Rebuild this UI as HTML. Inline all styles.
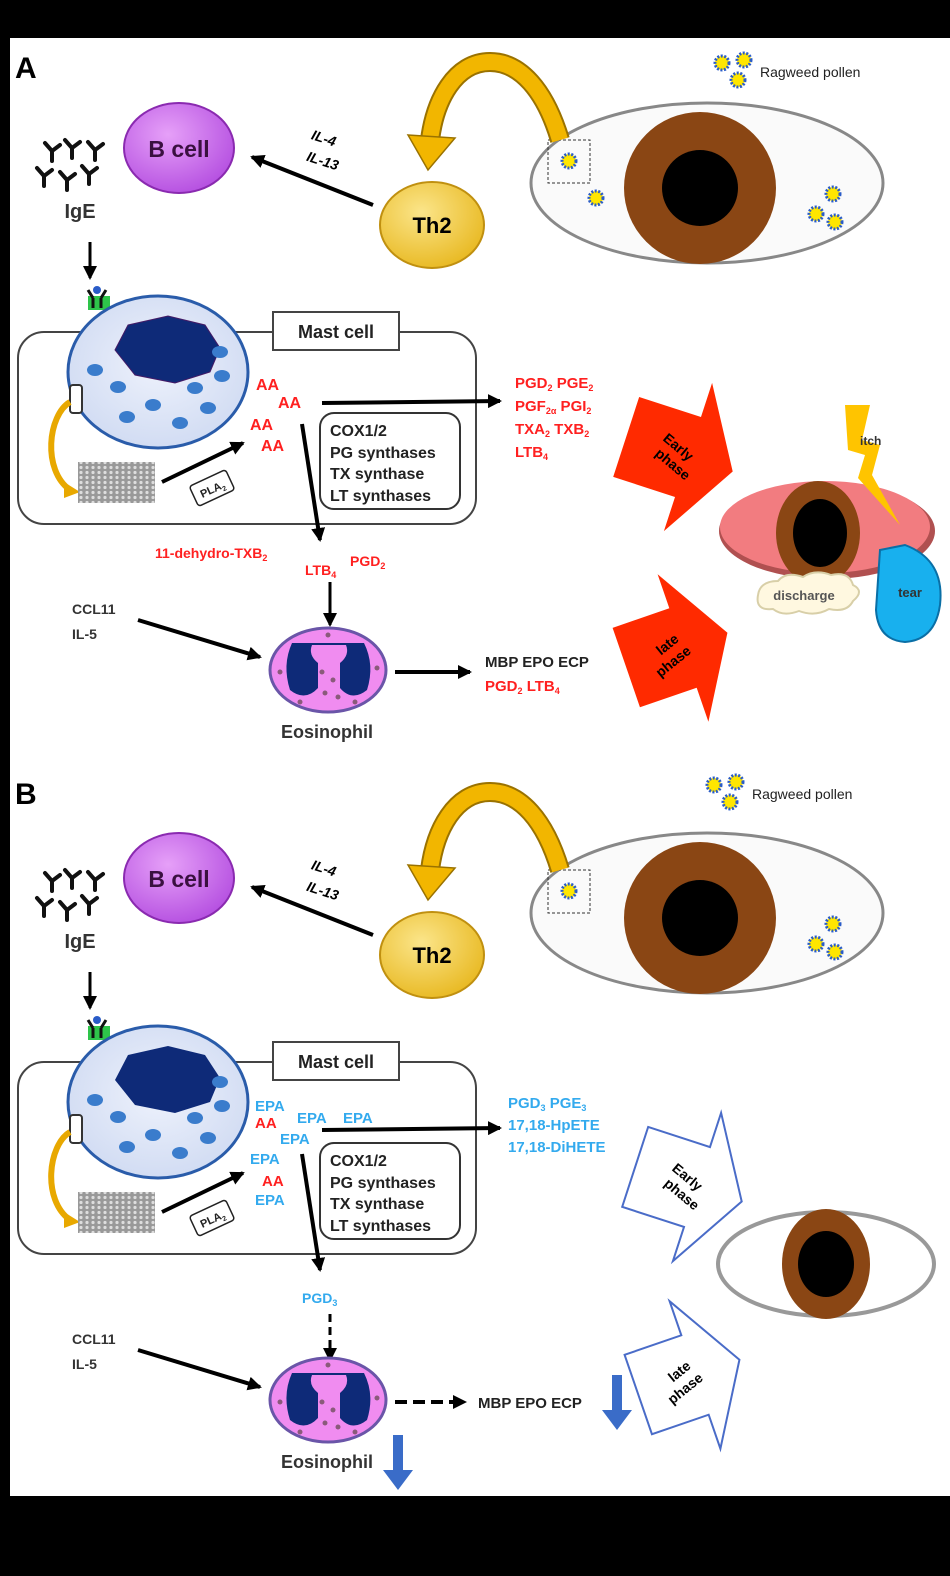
<!DOCTYPE html>
<html><head><meta charset="utf-8"><style>
html,body{margin:0;padding:0;background:#000;}
svg{display:block;}
text{font-family:"Liberation Sans",Arial,sans-serif;font-weight:bold;}
</style></head><body>
<svg width="950" height="1576" viewBox="0 0 950 1576" xmlns="http://www.w3.org/2000/svg">
<defs>
<marker id="ah" markerWidth="8" markerHeight="8" refX="6" refY="4" orient="auto" markerUnits="userSpaceOnUse" viewBox="0 0 8 8"><path d="M0,0 L8,4 L0,8 Z" fill="#000"/></marker>
<marker id="ahb" markerWidth="14" markerHeight="14" refX="12" refY="7" orient="auto" markerUnits="userSpaceOnUse"><path d="M0,0 L14,7 L0,14 Z" fill="#000"/></marker>
<radialGradient id="cellg" cx="0.5" cy="0.45" r="0.6"><stop offset="0" stop-color="#eef2fc"/><stop offset="1" stop-color="#cfdaf2"/></radialGradient>
<radialGradient id="bg" cx="0.4" cy="0.35" r="0.7"><stop offset="0" stop-color="#e6a0f8"/><stop offset="1" stop-color="#b44ee0"/></radialGradient>
<radialGradient id="tg" cx="0.4" cy="0.35" r="0.7"><stop offset="0" stop-color="#fbe58a"/><stop offset="1" stop-color="#e8b820"/></radialGradient>
<pattern id="mem" width="6" height="5" patternUnits="userSpaceOnUse"><rect width="6" height="5" fill="#999"/><circle cx="3" cy="2.5" r="1.6" fill="#ddd"/></pattern>
</defs>
<rect x="10" y="38" width="940" height="1458" fill="#fff"/>

<!-- ============ PANEL A ============ -->
<g id="pa">
<text x="15" y="78" font-size="30">A</text>
</g>

<!-- shared top part A -->
<g>
 <!-- pollen legend -->
 <g fill="#ffe600" stroke="#2a5cc8" stroke-width="3" stroke-dasharray="2 1.5">
  <circle cx="722" cy="63" r="7"/><circle cx="744" cy="60" r="7"/><circle cx="738" cy="80" r="7"/>
 </g>
 <text x="760" y="77" font-size="14" font-weight="normal" fill="#222" style="font-weight:normal">Ragweed pollen</text>
 <!-- eye -->
 <ellipse cx="707" cy="183" rx="176" ry="80" fill="#fafafa" stroke="#888" stroke-width="3"/>
 <circle cx="700" cy="188" r="76" fill="#8a4614"/>
 <circle cx="700" cy="188" r="38" fill="#000"/>
 <rect x="548" y="140" width="42" height="43" fill="none" stroke="#333" stroke-dasharray="3 2"/>
 <g fill="#ffe600" stroke="#2a5cc8" stroke-width="3" stroke-dasharray="2 1.5">
  <circle cx="569" cy="161" r="7"/><circle cx="596" cy="198" r="7"/>
  <circle cx="833" cy="194" r="7"/><circle cx="816" cy="214" r="7"/><circle cx="835" cy="222" r="7"/>
 </g>
 <!-- yellow arc arrow -->
 <path d="M560,140 C545,90 520,62 490,62 C455,62 435,100 430,140" fill="none" stroke="#9a7200" stroke-width="20"/>
 <path d="M560,140 C545,90 520,62 490,62 C455,62 435,100 430,140" fill="none" stroke="#f2b600" stroke-width="16"/>
 <path d="M408,135 L455,138 L428,170 Z" fill="#f2b600" stroke="#9a7200" stroke-width="1.5"/>
 <!-- Th2 -->
 <ellipse cx="432" cy="225" rx="52" ry="43" fill="url(#tg)" stroke="#c09010" stroke-width="2"/>
 <text x="432" y="233" font-size="22" text-anchor="middle">Th2</text>
 <!-- B cell -->
 <ellipse cx="179" cy="148" rx="55" ry="45" fill="url(#bg)" stroke="#8a2ab0" stroke-width="2"/>
 <text x="179" y="157" font-size="23" text-anchor="middle" fill="#3a1040">B cell</text>
 <line x1="373" y1="205" x2="252" y2="157" stroke="#000" stroke-width="4" marker-end="url(#ahb)"/>
 <text x="310" y="142" font-size="14" font-style="italic" transform="rotate(18 320 142)">IL-4</text>
 <text x="305" y="165" font-size="14" font-style="italic" transform="rotate(18 320 165)">IL-13</text>
 <!-- IgE -->
 <g stroke="#111" stroke-width="4" fill="none" stroke-linecap="round">
  <path d="M45,143 l7,8 l8,-6 M52,151 l0,10"/>
  <path d="M65,140 l7,8 l8,-6 M72,148 l0,10"/>
  <path d="M88,142 l7,8 l8,-6 M95,150 l0,10"/>
  <path d="M37,168 l7,8 l8,-6 M44,176 l0,10"/>
  <path d="M60,172 l7,8 l8,-6 M67,180 l0,10"/>
  <path d="M82,166 l7,8 l8,-6 M89,174 l0,10"/>
 </g>
 <text x="80" y="218" font-size="20" text-anchor="middle" fill="#333">IgE</text>
 <line x1="90" y1="242" x2="90" y2="278" stroke="#000" stroke-width="3" marker-end="url(#ahb)"/>
</g>

<!-- mast cell A -->
<g>
 <rect x="18" y="332" width="458" height="192" rx="26" fill="#fff" stroke="#444" stroke-width="2"/>
 <rect x="273" y="312" width="126" height="38" fill="#fff" stroke="#444" stroke-width="2"/>
 <text x="336" y="338" font-size="18" text-anchor="middle" fill="#222">Mast cell</text>
 <!-- receptor -->
 <rect x="88" y="296" width="22" height="14" fill="#2ec44a"/>
 <path d="M88,290 l5,8 M106,290 l-5,8 M93,298 l0,10 M101,298 l0,10" stroke="#111" stroke-width="3"/>
 <circle cx="97" cy="290" r="4" fill="#2a5cc8"/>
 <ellipse cx="158" cy="372" rx="90" ry="76" fill="url(#cellg)" stroke="#2a5caa" stroke-width="3"/>
 <path d="M128,325 L168,316 L205,325 L220,348 L210,372 L175,383 L135,375 L115,350 Z" fill="#0e2a78" stroke="#441a66" stroke-width="1"/>
 <g fill="#3a7ccc">
  <ellipse cx="95" cy="370" rx="8" ry="6"/><ellipse cx="118" cy="387" rx="8" ry="6"/><ellipse cx="153" cy="405" rx="8" ry="6"/>
  <ellipse cx="127" cy="417" rx="8" ry="6"/><ellipse cx="180" cy="423" rx="8" ry="6"/><ellipse cx="195" cy="388" rx="8" ry="6"/>
  <ellipse cx="208" cy="408" rx="8" ry="6"/><ellipse cx="220" cy="352" rx="8" ry="6"/><ellipse cx="222" cy="376" rx="8" ry="6"/>
 </g>
 <rect x="70" y="385" width="12" height="28" rx="3" fill="#fff" stroke="#333" stroke-width="2"/>
 <path d="M70,402 C48,415 42,470 70,490" fill="none" stroke="#e8a800" stroke-width="6"/>
 <path d="M64,482 L80,492 L64,498 Z" fill="#e8a800"/>
 <rect x="78" y="462" width="77" height="41" fill="url(#mem)"/>
 <line x1="162" y1="482" x2="243" y2="443" stroke="#000" stroke-width="4" marker-end="url(#ahb)"/>
 <g transform="rotate(-25 212 488)"><rect x="192" y="477" width="40" height="22" rx="3" fill="#fff" stroke="#222" stroke-width="1.5"/><text x="212" y="493" font-size="11" text-anchor="middle" fill="#222">PLA<tspan font-size="7" dy="3">2</tspan></text></g>
 <g fill="#ff2020" font-size="16">
  <text x="256" y="390">AA</text><text x="278" y="408">AA</text><text x="250" y="430">AA</text><text x="261" y="451">AA</text>
 </g>
 <line x1="322" y1="403" x2="500" y2="401" stroke="#000" stroke-width="4" marker-end="url(#ahb)"/>
 <rect x="320" y="413" width="140" height="96" rx="14" fill="#fff" stroke="#333" stroke-width="2"/>
 <g font-size="16" fill="#222"><text x="330" y="436">COX1/2</text><text x="330" y="458">PG synthases</text><text x="330" y="479">TX synthase</text><text x="330" y="501">LT synthases</text></g>
 <line x1="302" y1="424" x2="320" y2="540" stroke="#000" stroke-width="4" marker-end="url(#ahb)"/>
</g>
<!-- products A -->
<g fill="#ff2020" font-size="15">
 <text x="515" y="388">PGD<tspan font-size="9" dy="3">2</tspan><tspan dy="-3"> PGE</tspan><tspan font-size="9" dy="3">2</tspan></text>
 <text x="515" y="411">PGF<tspan font-size="9" dy="3">2α</tspan><tspan dy="-3"> PGI</tspan><tspan font-size="9" dy="3">2</tspan></text>
 <text x="515" y="434">TXA<tspan font-size="9" dy="3">2</tspan><tspan dy="-3">  TXB</tspan><tspan font-size="9" dy="3">2</tspan></text>
 <text x="515" y="457">LTB<tspan font-size="9" dy="3">4</tspan></text>
 <text x="155" y="558" font-size="14">11-dehydro-TXB<tspan font-size="9" dy="3">2</tspan></text>
 <text x="305" y="575" font-size="14">LTB<tspan font-size="9" dy="3">4</tspan></text>
 <text x="350" y="566" font-size="14">PGD<tspan font-size="9" dy="3">2</tspan></text>
</g>
<line x1="330" y1="582" x2="330" y2="625" stroke="#000" stroke-width="3" marker-end="url(#ahb)"/>
<g font-size="14" fill="#333"><text x="72" y="614">CCL11</text><text x="72" y="639">IL-5</text></g>
<line x1="138" y1="620" x2="260" y2="657" stroke="#000" stroke-width="4" marker-end="url(#ahb)"/>
<!-- eosinophil A -->
<g>
 <ellipse cx="328" cy="670" rx="58" ry="42" fill="#f08cf0" stroke="#6a55a8" stroke-width="3"/>
 <path d="M292,643 Q282,665 290,690 Q305,702 318,688 L318,663 Q308,655 312,645 L346,645 Q350,655 340,663 L340,688 Q352,702 367,690 Q375,665 364,643 Z" fill="#0e2a78"/>
 <g fill="#8a5a7a"><circle cx="322" cy="672" r="2.5"/><circle cx="333" cy="680" r="2.5"/><circle cx="325" cy="693" r="2.5"/><circle cx="338" cy="697" r="2.5"/><circle cx="300" cy="702" r="2.5"/><circle cx="355" cy="702" r="2.5"/><circle cx="280" cy="672" r="2.5"/><circle cx="377" cy="668" r="2.5"/><circle cx="328" cy="635" r="2.5"/></g>
 <text x="327" y="738" font-size="18" text-anchor="middle" fill="#333">Eosinophil</text>
</g>
<line x1="395" y1="672" x2="470" y2="672" stroke="#000" stroke-width="4" marker-end="url(#ahb)"/>
<text x="485" y="667" font-size="15" fill="#222">MBP EPO ECP</text>
<text x="485" y="691" font-size="15" fill="#ff2020">PGD<tspan font-size="9" dy="3">2</tspan><tspan dy="-3"> LTB</tspan><tspan font-size="9" dy="3">4</tspan></text>
<!-- red block arrows -->
<g transform="translate(688,457) rotate(18)">
 <path d="M-65,-42 L0,-42 L0,-78 L47,0 L0,78 L0,42 L-65,42 Z" fill="#ff2a00"/>
 <text x="-14" y="-2" font-size="14" text-anchor="middle" transform="rotate(22 -14 -2)">Early</text>
 <text x="-14" y="16" font-size="14" text-anchor="middle" transform="rotate(22 -14 16)">phase</text>
</g>
<g transform="translate(683,648) rotate(-19)">
 <path d="M-60,-42 L0,-42 L0,-78 L47,0 L0,78 L0,42 L-60,42 Z" fill="#ff2a00"/>
 <text x="-12" y="-4" font-size="14" text-anchor="middle" transform="rotate(-20 -12 -4)">late</text>
 <text x="-12" y="14" font-size="14" text-anchor="middle" transform="rotate(-20 -12 14)">phase</text>
</g>
<!-- inflamed eye -->
<ellipse cx="827" cy="531" rx="108" ry="48" fill="#b05050"/>
<ellipse cx="825" cy="527" rx="105" ry="46" fill="#f27c80"/>
<ellipse cx="818" cy="533" rx="42" ry="52" fill="#8a4614"/>
<ellipse cx="820" cy="533" rx="27" ry="34" fill="#000"/>
<path d="M845,405 L870,405 L862,440 L880,445 L872,475 L900,525 L858,478 L865,455 L848,450 Z" fill="#ffc400"/>
<text x="860" y="445" font-size="12" fill="#333">itch</text>
<path d="M758,595 q2,-14 20,-14 q8,-10 25,-4 q12,-8 28,-2 q18,-4 22,10 q12,6 0,16 q-6,12 -24,8 q-14,8 -30,2 q-16,6 -26,-2 q-18,2 -15,-14 Z" fill="#fff8e0" stroke="#d8cfa8" stroke-width="2"/>
<text x="804" y="600" font-size="13" text-anchor="middle" fill="#555">discharge</text>
<path d="M880,550 L905,545 Q945,560 940,605 Q935,640 905,642 Q878,640 876,610 Z" fill="#18b0ee" stroke="#0a6fa6" stroke-width="2"/>
<text x="910" y="597" font-size="13" text-anchor="middle" fill="#333">tear</text>

<!-- ============ PANEL B ============ -->
<text x="15" y="804" font-size="30">B</text>
<g transform="translate(-8,722)">
 <g fill="#ffe600" stroke="#2a5cc8" stroke-width="3" stroke-dasharray="2 1.5">
  <circle cx="722" cy="63" r="7"/><circle cx="744" cy="60" r="7"/><circle cx="738" cy="80" r="7"/>
 </g>
 <text x="760" y="77" font-size="14" style="font-weight:normal" fill="#222">Ragweed pollen</text>
</g>
<g transform="translate(0,730)">
 <ellipse cx="707" cy="183" rx="176" ry="80" fill="#fafafa" stroke="#888" stroke-width="3"/>
 <circle cx="700" cy="188" r="76" fill="#8a4614"/>
 <circle cx="700" cy="188" r="38" fill="#000"/>
 <rect x="548" y="140" width="42" height="43" fill="none" stroke="#333" stroke-dasharray="3 2"/>
 <g fill="#ffe600" stroke="#2a5cc8" stroke-width="3" stroke-dasharray="2 1.5">
  <circle cx="569" cy="161" r="7"/><circle cx="833" cy="194" r="7"/><circle cx="816" cy="214" r="7"/><circle cx="835" cy="222" r="7"/>
 </g>
 <path d="M560,140 C545,90 520,62 490,62 C455,62 435,100 430,140" fill="none" stroke="#9a7200" stroke-width="20"/>
 <path d="M560,140 C545,90 520,62 490,62 C455,62 435,100 430,140" fill="none" stroke="#f2b600" stroke-width="16"/>
 <path d="M408,135 L455,138 L428,170 Z" fill="#f2b600" stroke="#9a7200" stroke-width="1.5"/>
 <ellipse cx="432" cy="225" rx="52" ry="43" fill="url(#tg)" stroke="#c09010" stroke-width="2"/>
 <text x="432" y="233" font-size="22" text-anchor="middle">Th2</text>
 <ellipse cx="179" cy="148" rx="55" ry="45" fill="url(#bg)" stroke="#8a2ab0" stroke-width="2"/>
 <text x="179" y="157" font-size="23" text-anchor="middle" fill="#3a1040">B cell</text>
 <line x1="373" y1="205" x2="252" y2="157" stroke="#000" stroke-width="4" marker-end="url(#ahb)"/>
 <text x="310" y="142" font-size="14" font-style="italic" transform="rotate(18 320 142)">IL-4</text>
 <text x="305" y="165" font-size="14" font-style="italic" transform="rotate(18 320 165)">IL-13</text>
 <g stroke="#111" stroke-width="4" fill="none" stroke-linecap="round">
  <path d="M45,143 l7,8 l8,-6 M52,151 l0,10"/><path d="M65,140 l7,8 l8,-6 M72,148 l0,10"/><path d="M88,142 l7,8 l8,-6 M95,150 l0,10"/>
  <path d="M37,168 l7,8 l8,-6 M44,176 l0,10"/><path d="M60,172 l7,8 l8,-6 M67,180 l0,10"/><path d="M82,166 l7,8 l8,-6 M89,174 l0,10"/>
 </g>
 <text x="80" y="218" font-size="20" text-anchor="middle" fill="#333">IgE</text>
 <line x1="90" y1="242" x2="90" y2="278" stroke="#000" stroke-width="3" marker-end="url(#ahb)"/>
 <!-- mast cell B -->
 <rect x="18" y="332" width="458" height="192" rx="26" fill="#fff" stroke="#444" stroke-width="2"/>
 <rect x="273" y="312" width="126" height="38" fill="#fff" stroke="#444" stroke-width="2"/>
 <text x="336" y="338" font-size="18" text-anchor="middle" fill="#222">Mast cell</text>
 <rect x="88" y="296" width="22" height="14" fill="#2ec44a"/>
 <path d="M88,290 l5,8 M106,290 l-5,8 M93,298 l0,10 M101,298 l0,10" stroke="#111" stroke-width="3"/>
 <circle cx="97" cy="290" r="4" fill="#2a5cc8"/>
 <ellipse cx="158" cy="372" rx="90" ry="76" fill="url(#cellg)" stroke="#2a5caa" stroke-width="3"/>
 <path d="M128,325 L168,316 L205,325 L220,348 L210,372 L175,383 L135,375 L115,350 Z" fill="#0e2a78"/>
 <g fill="#3a7ccc">
  <ellipse cx="95" cy="370" rx="8" ry="6"/><ellipse cx="118" cy="387" rx="8" ry="6"/><ellipse cx="153" cy="405" rx="8" ry="6"/>
  <ellipse cx="127" cy="417" rx="8" ry="6"/><ellipse cx="180" cy="423" rx="8" ry="6"/><ellipse cx="195" cy="388" rx="8" ry="6"/>
  <ellipse cx="208" cy="408" rx="8" ry="6"/><ellipse cx="220" cy="352" rx="8" ry="6"/><ellipse cx="222" cy="376" rx="8" ry="6"/>
 </g>
 <rect x="70" y="385" width="12" height="28" rx="3" fill="#fff" stroke="#333" stroke-width="2"/>
 <path d="M70,402 C48,415 42,470 70,490" fill="none" stroke="#e8a800" stroke-width="6"/>
 <path d="M64,482 L80,492 L64,498 Z" fill="#e8a800"/>
 <rect x="78" y="462" width="77" height="41" fill="url(#mem)"/>
 <line x1="162" y1="482" x2="243" y2="443" stroke="#000" stroke-width="4" marker-end="url(#ahb)"/>
 <g transform="rotate(-25 212 488)"><rect x="192" y="477" width="40" height="22" rx="3" fill="#fff" stroke="#222" stroke-width="1.5"/><text x="212" y="493" font-size="11" text-anchor="middle" fill="#222">PLA<tspan font-size="7" dy="3">2</tspan></text></g>
 <g font-size="15">
  <text x="255" y="381" fill="#33aaee">EPA</text>
  <text x="255" y="398" fill="#ff2020">AA</text>
  <text x="297" y="393" fill="#33aaee">EPA</text>
  <text x="343" y="393" fill="#33aaee">EPA</text>
  <text x="280" y="414" fill="#33aaee">EPA</text>
  <text x="250" y="434" fill="#33aaee">EPA</text>
  <text x="262" y="456" fill="#ff2020">AA</text>
  <text x="255" y="475" fill="#33aaee">EPA</text>
 </g>
 <line x1="322" y1="400" x2="500" y2="398" stroke="#000" stroke-width="4" marker-end="url(#ahb)"/>
 <rect x="320" y="413" width="140" height="96" rx="14" fill="#fff" stroke="#333" stroke-width="2"/>
 <g font-size="16" fill="#222"><text x="330" y="436">COX1/2</text><text x="330" y="458">PG synthases</text><text x="330" y="479">TX synthase</text><text x="330" y="501">LT synthases</text></g>
 <line x1="302" y1="424" x2="320" y2="540" stroke="#000" stroke-width="4" marker-end="url(#ahb)"/>
 <g fill="#33aaee" font-size="15">
  <text x="508" y="378">PGD<tspan font-size="9" dy="3">3</tspan><tspan dy="-3"> PGE</tspan><tspan font-size="9" dy="3">3</tspan></text>
  <text x="508" y="400">17,18-HpETE</text>
  <text x="508" y="422">17,18-DiHETE</text>
  <text x="302" y="573" font-size="14">PGD<tspan font-size="9" dy="3">3</tspan></text>
 </g>
 <line x1="330" y1="584" x2="330" y2="630" stroke="#000" stroke-width="3" stroke-dasharray="8 5" marker-end="url(#ahb)"/>
 <g font-size="14" fill="#333"><text x="72" y="614">CCL11</text><text x="72" y="639">IL-5</text></g>
 <line x1="138" y1="620" x2="260" y2="657" stroke="#000" stroke-width="4" marker-end="url(#ahb)"/>
 <ellipse cx="328" cy="670" rx="58" ry="42" fill="#f08cf0" stroke="#6a55a8" stroke-width="3"/>
 <path d="M292,643 Q282,665 290,690 Q305,702 318,688 L318,663 Q308,655 312,645 L346,645 Q350,655 340,663 L340,688 Q352,702 367,690 Q375,665 364,643 Z" fill="#0e2a78"/>
 <g fill="#8a5a7a"><circle cx="322" cy="672" r="2.5"/><circle cx="333" cy="680" r="2.5"/><circle cx="325" cy="693" r="2.5"/><circle cx="338" cy="697" r="2.5"/><circle cx="300" cy="702" r="2.5"/><circle cx="355" cy="702" r="2.5"/><circle cx="280" cy="672" r="2.5"/><circle cx="377" cy="668" r="2.5"/><circle cx="328" cy="635" r="2.5"/></g>
 <text x="327" y="738" font-size="18" text-anchor="middle" fill="#333">Eosinophil</text>
 <line x1="395" y1="672" x2="465" y2="672" stroke="#000" stroke-width="4" stroke-dasharray="12 6" marker-end="url(#ahb)"/>
 <text x="478" y="678" font-size="15" fill="#222">MBP EPO ECP</text>
</g>
<!-- blue down arrows -->
<path d="M612,1375 L622,1375 L622,1410 L632,1410 L617,1430 L602,1410 L612,1410 Z" fill="#3a6cc8"/>
<path d="M393,1435 L403,1435 L403,1470 L413,1470 L398,1490 L383,1470 L393,1470 Z" fill="#3a6cc8"/>
<!-- white block arrows -->
<g transform="translate(697,1187) rotate(18)">
 <path d="M-65,-42 L0,-42 L0,-78 L47,0 L0,78 L0,42 L-65,42 Z" fill="#fff" stroke="#4a6cc8" stroke-width="2"/>
 <text x="-14" y="-2" font-size="14" text-anchor="middle" transform="rotate(22 -14 -2)">Early</text>
 <text x="-14" y="16" font-size="14" text-anchor="middle" transform="rotate(22 -14 16)">phase</text>
</g>
<g transform="translate(695,1375) rotate(-19)">
 <path d="M-60,-42 L0,-42 L0,-78 L47,0 L0,78 L0,42 L-60,42 Z" fill="#fff" stroke="#4a6cc8" stroke-width="2"/>
 <text x="-12" y="-4" font-size="14" text-anchor="middle" transform="rotate(-20 -12 -4)">late</text>
 <text x="-12" y="14" font-size="14" text-anchor="middle" transform="rotate(-20 -12 14)">phase</text>
</g>
<!-- normal eye B -->
<ellipse cx="826" cy="1264" rx="108" ry="52" fill="#fff" stroke="#999" stroke-width="4"/>
<ellipse cx="826" cy="1264" rx="44" ry="55" fill="#8a4614"/>
<ellipse cx="826" cy="1264" rx="28" ry="33" fill="#000"/>
</svg>
</body></html>
